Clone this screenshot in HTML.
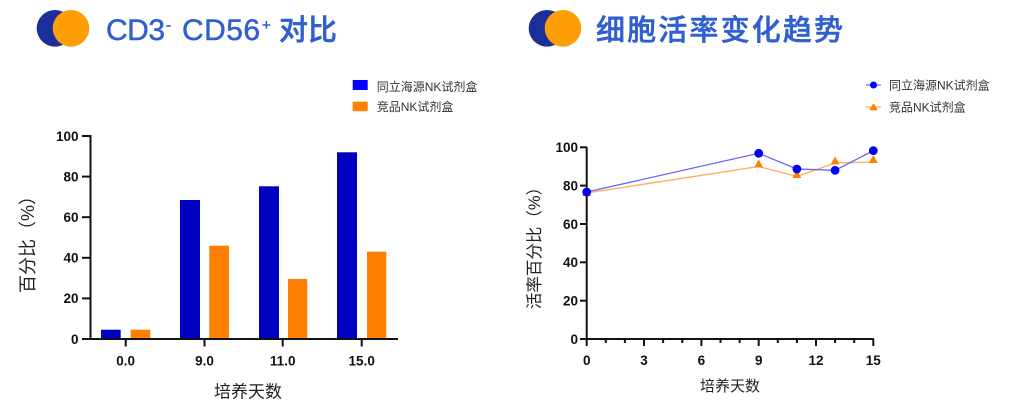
<!DOCTYPE html>
<html><head><meta charset="utf-8"><style>
html,body{margin:0;padding:0;background:#fff;width:1014px;height:403px;overflow:hidden}
svg{display:block}
.t{font-family:"Liberation Sans","Noto Sans CJK SC",sans-serif}
.cjk{font-family:"Liberation Sans","Noto Sans CJK SC",sans-serif}
.tick{font-family:"Liberation Sans",sans-serif;font-weight:bold;font-size:13.5px;fill:#111}
</style></head><body>
<svg width="1014" height="403" viewBox="0 0 1014 403" xmlns="http://www.w3.org/2000/svg">
<!-- Title left -->
<circle cx="55" cy="28.3" r="18.3" fill="#1b2f9a"/>
<circle cx="71" cy="28.3" r="18.3" fill="#fd9f04"/>
<g class="t" fill="#2f5fd0" stroke="#2f5fd0" stroke-width="0.5">
<text x="106" y="40" font-size="30" textLength="59" lengthAdjust="spacing">CD3</text>
<text x="166" y="30" font-size="15">-</text>
<text x="182" y="40" font-size="30" textLength="78" lengthAdjust="spacing">CD56</text>
<text x="262" y="30" font-size="15">+</text>
<text x="279" y="40" font-size="29" font-weight="500" textLength="58" lengthAdjust="spacing">对比</text>
</g>
<!-- Title right -->
<circle cx="547" cy="28.3" r="18.3" fill="#1b2f9a"/>
<circle cx="563" cy="28.3" r="18.3" fill="#fd9f04"/>
<text class="t" x="596" y="40" font-size="29" font-weight="500" fill="#2f5fd0" stroke="#2f5fd0" stroke-width="0.5" textLength="247" lengthAdjust="spacing">细胞活率变化趋势</text>

<!-- Left legend -->
<rect x="352.7" y="80" width="15" height="10" fill="#0000ff"/>
<text class="cjk" x="376.7" y="91" font-size="12" fill="#333">同立海源NK试剂盒</text>
<rect x="352.7" y="101.7" width="15" height="9.5" fill="#ff8000"/>
<text class="cjk" x="376.7" y="111" font-size="12" fill="#333">竞品NK试剂盒</text>

<!-- Left bars -->
<g fill="#0000c0">
<rect x="101" y="329.7" width="19.7" height="9.3"/>
<rect x="180" y="200" width="20" height="139"/>
<rect x="259" y="186.3" width="20" height="152.7"/>
<rect x="337" y="152.3" width="20" height="186.7"/>
</g>
<g fill="#ff8000">
<rect x="130.7" y="329.7" width="19.6" height="9.3"/>
<rect x="209.3" y="245.7" width="19.7" height="93.3"/>
<rect x="288" y="279" width="19.3" height="60"/>
<rect x="367" y="251.7" width="19.3" height="87.3"/>
</g>
<!-- Left axes -->
<g stroke="#111" stroke-width="2" fill="none">
<line x1="90.5" y1="135" x2="90.5" y2="340"/>
<line x1="89.5" y1="339" x2="398" y2="339"/>
<line x1="82" y1="136" x2="91" y2="136"/>
<line x1="82" y1="176.6" x2="91" y2="176.6"/>
<line x1="82" y1="217.2" x2="91" y2="217.2"/>
<line x1="82" y1="257.8" x2="91" y2="257.8"/>
<line x1="82" y1="298.4" x2="91" y2="298.4"/>
<line x1="82" y1="339" x2="91" y2="339"/>
<line x1="125.7" y1="339" x2="125.7" y2="346.5"/>
<line x1="204.5" y1="339" x2="204.5" y2="346.5"/>
<line x1="282.7" y1="339" x2="282.7" y2="346.5"/>
<line x1="361.7" y1="339" x2="361.7" y2="346.5"/>
</g>
<g class="tick" text-anchor="end">
<text x="78.5" y="141">100</text>
<text x="78.5" y="181.5">80</text>
<text x="78.5" y="222">60</text>
<text x="78.5" y="262.6">40</text>
<text x="78.5" y="303.2">20</text>
<text x="78.5" y="343.8">0</text>
</g>
<g class="tick" text-anchor="middle">
<text x="125.7" y="365.7">0.0</text>
<text x="204.5" y="365.7">9.0</text>
<text x="282.7" y="365.7">11.0</text>
<text x="361.7" y="365.7">15.0</text>
</g>
<text class="cjk" x="248" y="397.5" font-size="17" fill="#222" text-anchor="middle">培养天数</text>
<text class="cjk" transform="translate(34,240) rotate(-90)" font-size="18" fill="#222" text-anchor="middle">百分比（%）</text>

<!-- Right legend -->
<line x1="866" y1="85" x2="881" y2="85" stroke="#6666ff" stroke-width="1.2"/>
<circle cx="873.5" cy="85" r="3.5" fill="#0000ff"/>
<text class="cjk" x="889" y="89.5" font-size="12" fill="#333">同立海源NK试剂盒</text>
<line x1="866" y1="107" x2="881" y2="107" stroke="#ffaa55" stroke-width="1.2"/>
<polygon points="873.5,103.2 877.8,110.2 869.2,110.2" fill="#ff8000"/>
<text class="cjk" x="889" y="111.5" font-size="12" fill="#333">竞品NK试剂盒</text>

<!-- Right axes -->
<g stroke="#111" stroke-width="2" fill="none">
<line x1="586.7" y1="147" x2="586.7" y2="340"/>
<line x1="585.7" y1="339" x2="873.8" y2="339"/>
<line x1="580" y1="147.3" x2="587" y2="147.3"/>
<line x1="580" y1="185.6" x2="587" y2="185.6"/>
<line x1="580" y1="224" x2="587" y2="224"/>
<line x1="580" y1="262.3" x2="587" y2="262.3"/>
<line x1="580" y1="300.7" x2="587" y2="300.7"/>
<line x1="580" y1="339" x2="587" y2="339"/>
</g>
<g stroke="#111" stroke-width="2">
<line x1="586.7" y1="339" x2="586.7" y2="346"/>
<line x1="605.8" y1="339" x2="605.8" y2="343"/>
<line x1="624.9" y1="339" x2="624.9" y2="343"/>
<line x1="644" y1="339" x2="644" y2="346"/>
<line x1="663.1" y1="339" x2="663.1" y2="343"/>
<line x1="682.3" y1="339" x2="682.3" y2="343"/>
<line x1="701.4" y1="339" x2="701.4" y2="346"/>
<line x1="720.5" y1="339" x2="720.5" y2="343"/>
<line x1="739.6" y1="339" x2="739.6" y2="343"/>
<line x1="758.7" y1="339" x2="758.7" y2="346"/>
<line x1="777.8" y1="339" x2="777.8" y2="343"/>
<line x1="796.9" y1="339" x2="796.9" y2="343"/>
<line x1="816" y1="339" x2="816" y2="346"/>
<line x1="835.1" y1="339" x2="835.1" y2="343"/>
<line x1="854.2" y1="339" x2="854.2" y2="343"/>
<line x1="873.3" y1="339" x2="873.3" y2="346"/>
</g>
<g class="tick" text-anchor="end">
<text x="578" y="152">100</text>
<text x="578" y="190.4">80</text>
<text x="578" y="228.8">60</text>
<text x="578" y="267.1">40</text>
<text x="578" y="305.5">20</text>
<text x="578" y="343.8">0</text>
</g>
<g class="tick" text-anchor="middle">
<text x="586.7" y="365">0</text>
<text x="644" y="365">3</text>
<text x="701.4" y="365">6</text>
<text x="758.7" y="365">9</text>
<text x="816" y="365">12</text>
<text x="873.3" y="365">15</text>
</g>
<text class="cjk" x="730" y="391" font-size="15" fill="#222" text-anchor="middle">培养天数</text>
<text class="cjk" transform="translate(540,244) rotate(-90)" font-size="16.5" fill="#222" text-anchor="middle">活率百分比（%）</text>

<!-- Series -->
<polyline points="586.7,193 758.7,166.5 796.9,176.5 835.1,163 873.3,162" fill="none" stroke="#ffaa55" stroke-width="1.3"/>
<polyline points="586.7,192 758.7,153.3 796.9,169 835.1,170.3 873.3,150.7" fill="none" stroke="#6666ff" stroke-width="1.3"/>
<g fill="#ff8000">
<polygon points="586.7,188 591.2,196 582.2,196"/>
<polygon points="758.7,159.5 763.2,167.5 754.2,167.5"/>
<polygon points="796.9,170 801.4,178 792.4,178"/>
<polygon points="835.1,156.5 839.6,164.5 830.6,164.5"/>
<polygon points="873.3,155 877.8,163 868.8,163"/>
</g>
<g fill="#0000f0">
<circle cx="586.7" cy="192" r="4.4"/>
<circle cx="758.7" cy="153.3" r="4.4"/>
<circle cx="796.9" cy="169" r="4.4"/>
<circle cx="835.1" cy="170.3" r="4.4"/>
<circle cx="873.3" cy="150.7" r="4.4"/>
</g>
</svg>
</body></html>
